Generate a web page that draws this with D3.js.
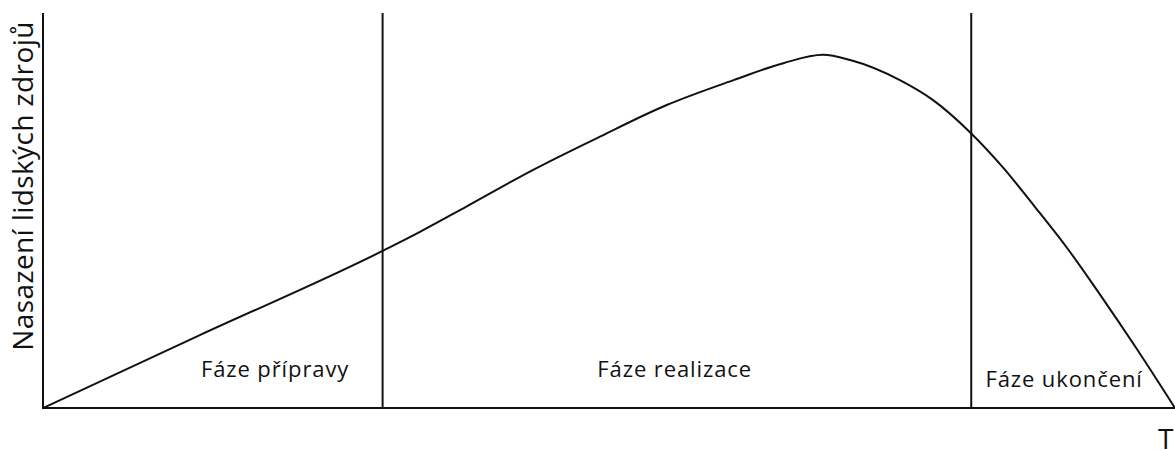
<!DOCTYPE html>
<html>
<head>
<meta charset="utf-8">
<script src="https://cdn.jsdelivr.net/npm/d3@7"></script>
<style>
	body { margin: 0; background: #fff; }
	text { font-family: 'Open Sans', sans-serif; fill: #111; }
</style>
</head>
<body>
<svg id="canvas"></svg>
<script>
// curve of resource usage over time (0..100 on both axes)
const timeValues = [0, 13.9, 29.95, 33.3, 37.4, 43.3, 49.2, 55.1, 61.0, 65.4, 68.9, 71.3, 75.7, 78.6, 82.0, 84.8, 87.6, 90.6, 93.5, 96.5, 100];
const usageValues = [0, 18.5, 39.7, 44.6, 51.0, 60.3, 68.7, 76.7, 83.0, 87.3, 89.4, 88.1, 83.0, 78.0, 69.5, 60.9, 51.0, 40.0, 28.2, 15.5, 0];

// phase borders and labels
const phaseBorders = [30, 82];
const phaseLabels = ['Fáze přípravy', 'Fáze realizace', 'Fáze ukončení'];
const phaseLabelX = [20.5, 55.8, 90.2];
const phaseLabelY = [7.8, 7.8, 5.3];

const yTitle = 'Nasazení lidských zdrojů';
const xTitle = 'T';

const w = 1175;
const h = 450;

const svg = d3.select('#canvas').attr('width', w).attr('height', h);

const xScale = d3.scaleLinear().domain([0, 100]).range([43, 1175]);
const yScale = d3.scaleLinear().domain([0, 100]).range([408, 13]);

const stroke = '#111';

// axes (no ticks)
svg.append('line')
	.attr('x1', xScale(0)).attr('x2', xScale(100))
	.attr('y1', yScale(0)).attr('y2', yScale(0))
	.attr('stroke', stroke).attr('stroke-width', 2);
svg.append('line')
	.attr('x1', xScale(0)).attr('x2', xScale(0))
	.attr('y1', yScale(0) + 1).attr('y2', yScale(100))
	.attr('stroke', stroke).attr('stroke-width', 2);

// phase dividers
svg.selectAll('.divider')
	.data(phaseBorders)
	.enter()
	.append('line')
	.attr('class', 'divider')
	.attr('x1', (d) => xScale(d)).attr('x2', (d) => xScale(d))
	.attr('y1', yScale(0)).attr('y2', yScale(100))
	.attr('stroke', stroke).attr('stroke-width', 2);

// curve
const points = timeValues.map((t, i) => [t, usageValues[i]]);
const line = d3.line()
	.x((d) => xScale(d[0]))
	.y((d) => yScale(d[1]))
	.curve(d3.curveMonotoneX);
svg.append('path')
	.datum(points)
	.attr('d', line)
	.attr('fill', 'none')
	.attr('stroke', stroke)
	.attr('stroke-width', 2);

// phase labels
svg.selectAll('.phase')
	.data(phaseLabels)
	.enter()
	.append('text')
	.attr('class', 'phase')
	.attr('x', (d, i) => xScale(phaseLabelX[i]))
	.attr('y', (d, i) => yScale(phaseLabelY[i]))
	.attr('text-anchor', 'middle')
	.style('font-size', '22px')
	.style('letter-spacing', '0.9px')
	.text((d) => d);

// axis titles
svg.append('text')
	.attr('transform', 'translate(' + 33 + ',' + 186 + ') rotate(-90)')
	.attr('text-anchor', 'middle')
	.style('font-size', '28px')
	.style('letter-spacing', '0.4px')
	.text(yTitle);

svg.append('text')
	.attr('x', 1158)
	.attr('y', 449)
	.style('font-size', '28px')
	.text(xTitle);
</script>
</body>
</html>
